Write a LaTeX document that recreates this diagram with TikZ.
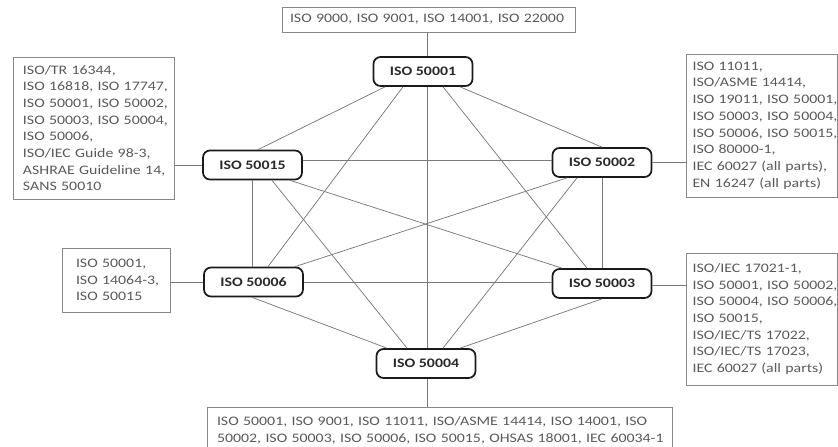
\documentclass[tikz,border=0pt]{standalone}
\usepackage{fontspec}
\setmainfont{Carlito}[FakeStretch=1.22]
\usetikzlibrary{calc}
\definecolor{boxtext}{HTML}{5A5A5A}
\definecolor{nodetext}{HTML}{2A2A2A}
\definecolor{linecol}{HTML}{7A7A7A}
\definecolor{boxline}{HTML}{888888}
\definecolor{nodeline}{HTML}{1A1A1A}
\newcommand\bl[1]{\mbox{#1}}
\tikzset{
  stdnode/.style={draw=nodeline, line width=1.7pt, rounded corners=7pt, fill=white,
    minimum width=99pt, minimum height=29pt, inner sep=0pt,
    font=\fontsize{13}{16}\selectfont\bfseries, text=nodetext},
  refbox/.style={draw=boxline, line width=0.8pt, fill=white, inner xsep=0pt, inner ysep=0pt,
    align=left, font=\fontsize{13}{16.7}\selectfont, text=boxtext},
  link/.style={draw=linecol, line width=0.75pt}
}
\begin{document}
\begin{tikzpicture}[x=1pt,y=-1pt]
\useasboundingbox (0,0) rectangle (838,447);
\clip (0,0) rectangle (838,447);
% standard nodes
\node[stdnode] (n1)  at (423,71.5)  {ISO 50001};
\node[stdnode] (n15) at (252.5,165) {ISO 50015};
\node[stdnode] (n2)  at (602,162.5) {ISO 50002};
\node[stdnode] (n6)  at (253.5,282) {ISO 50006};
\node[stdnode] (n3)  at (602,283.5) {ISO 50003};
\node[stdnode] (n4)  at (426,363.5) {ISO 50004};
% reference boxes
\node[refbox, minimum width=293pt, minimum height=25pt, text width=277pt] (tbox) at (428.5,19.5)
  {\bl{ISO 9000, ISO 9001, ISO 14001, ISO 22000}};
\node[refbox, minimum width=161pt, minimum height=142pt, text width=141pt] (lbox) at (93.5,128)
  {\bl{ISO/TR 16344,}\\\bl{ISO 16818, ISO 17747,}\\\bl{ISO 50001, ISO 50002,}\\\bl{ISO 50003, ISO 50004,}\\\bl{ISO 50006,}\\\bl{ISO/IEC Guide 98-3,}\\\bl{ASHRAE Guideline 14,}\\\bl{SANS 50010}};
\node[refbox, minimum width=151pt, minimum height=143pt, text width=138pt] (rbox) at (761.5,125.5)
  {\bl{ISO 11011,}\\\bl{ISO/ASME 14414,}\\\bl{ISO 19011, ISO 50001,}\\\bl{ISO 50003, ISO 50004,}\\\bl{ISO 50006, ISO 50015,}\\\bl{ISO 80000-1,}\\\bl{IEC 60027 (all parts),}\\\bl{EN 16247 (all parts)}};
\node[refbox, minimum width=108pt, minimum height=64pt, text width=80pt] (llbox) at (116,280)
  {\bl{ISO 50001,}\\\bl{ISO 14064-3,}\\\bl{ISO 50015}};
\node[refbox, minimum width=151pt, minimum height=132pt, text width=138pt] (rlbox) at (761.5,319)
  {\bl{ISO/IEC 17021-1,}\\\bl{ISO 50001, ISO 50002,}\\\bl{ISO 50004, ISO 50006,}\\\bl{ISO 50015,}\\\bl{ISO/IEC/TS 17022,}\\\bl{ISO/IEC/TS 17023,}\\\bl{IEC 60027 (all parts)}};
\node[refbox, minimum width=465pt, minimum height=46pt, text width=445pt, anchor=north] (bbox) at (439.5,407)
  {\bl{ISO 50001, ISO 9001, ISO 11011, ISO/ASME 14414, ISO 14001, ISO}\\\bl{50002, ISO 50003, ISO 50006, ISO 50015, OHSAS 18001, IEC 60034-1}};
% links among standards
\path[link] ([xshift=5.5pt]n15.north) -- ([xshift=-38pt]n1.south);
\path[link] ([xshift=14.5pt]n6.north) -- ([xshift=-20pt]n1.south);
\path[link] ([xshift=4pt]n1.south) -- ([xshift=1pt]n4.north);
\path[link] ([xshift=-15pt]n3.north) -- ([xshift=20pt]n1.south);
\path[link] (n2.north) -- ([xshift=37pt]n1.south);
\path[link] ([yshift=2.5pt]n2.west) -- ([yshift=2.5pt]n2.west -| n15.east);
\path[link] (n15.south) -- (n15.south |- n6.north);
\path[link] ([xshift=37.5pt]n15.south) -- ([xshift=-40pt]n3.north);
\path[link] ([xshift=19.5pt]n15.south) -- ([xshift=-19pt]n4.north);
\path[link] ([xshift=-35pt]n2.south) -- ([xshift=41.5pt]n6.north);
\path[link] ([xshift=-25pt]n2.south) -- ([xshift=17pt]n4.north);
\path[link] (n2.south) -- (n2.south |- n3.north);
\path[link] (n6.east) -- (n6.east -| n3.west);
\path[link] ([xshift=-1.5pt]n6.south) -- ([xshift=-39pt]n4.north);
\path[link] (n3.south) -- ([xshift=34pt]n4.north);
% links to reference boxes
\path[link] ([xshift=4pt]n1.north) -- ([xshift=4pt]n1.north |- tbox.south);
\path[link] (n15.west) -- (n15.west -| lbox.east);
\path[link] (n2.east) -- (n2.east -| rbox.west);
\path[link] (n6.west) -- (n6.west -| llbox.east);
\path[link] ([yshift=-1.5pt]n3.east) -- ([yshift=-1.5pt]n3.east -| rlbox.west);
\path[link] ([xshift=1pt]n4.south) -- ([xshift=1pt]n4.south |- bbox.north);
\end{tikzpicture}
\end{document}
